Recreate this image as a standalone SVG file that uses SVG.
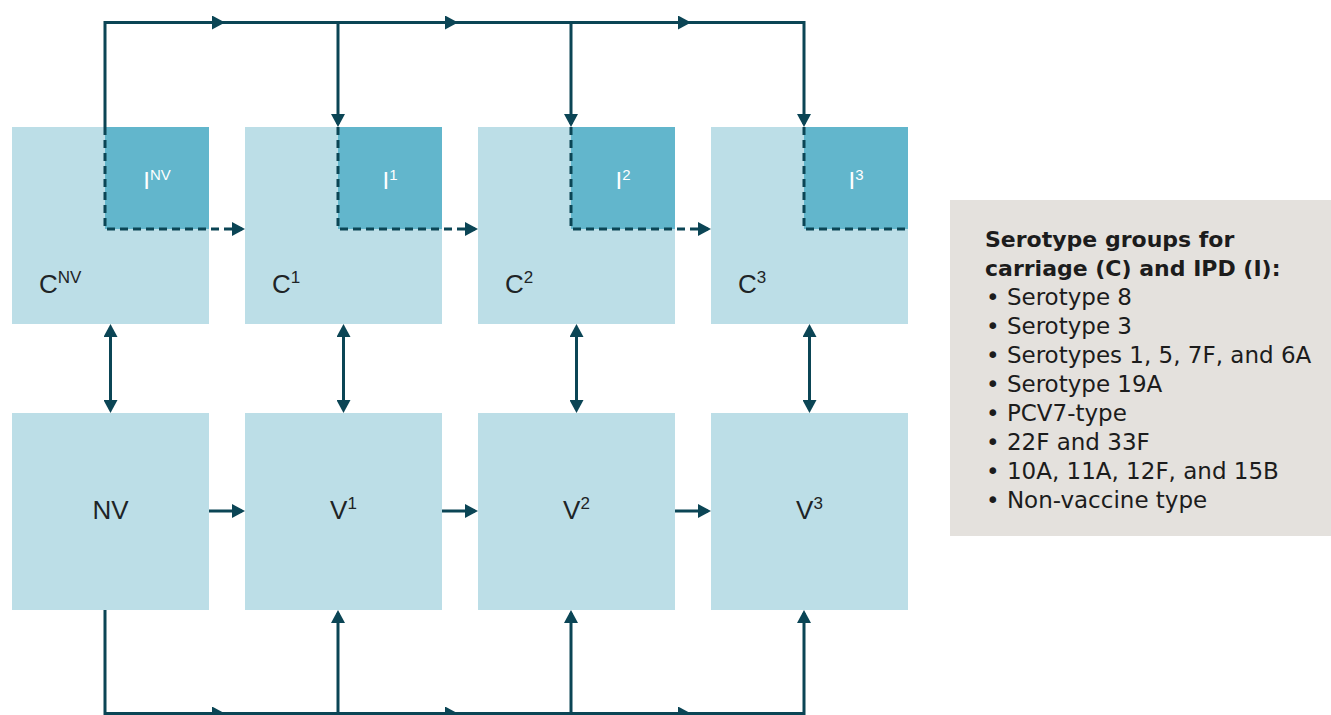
<svg xmlns="http://www.w3.org/2000/svg" width="1331" height="715" viewBox="0 0 1331 715">
  <defs>
    <style>
      .box { fill: #bcdee7; }
      .ibox { fill: #62b6cc; }
      .lbl { font-family: "Liberation Sans", Arial, sans-serif; font-size: 26px; fill: #1e2426; }
      .ilbl { font-family: "Liberation Sans", Arial, sans-serif; font-size: 24px; fill: #ffffff; }
      .sup { font-size: 17px; }
      .isup { font-size: 15px; }
      .flow { fill: none; stroke: #0b4555; stroke-width: 3; }
      .dash { fill: none; stroke: #0b4555; stroke-width: 3; stroke-dasharray: 8 5; }
      .legend-bg { fill: #e4e1dd; }
      .legend { font-family: "DejaVu Sans", Verdana, sans-serif; font-size: 23px; fill: #1c1c1c; }
      .legend-title { font-weight: bold; font-size: 22px; }
    </style>
    <marker id="head" viewBox="0 0 13 14" markerWidth="13" markerHeight="14" markerUnits="userSpaceOnUse" refX="10" refY="7" orient="auto-start-reverse">
      <path d="M0,0 L13,7 L0,14 z" fill="#0b4555"/>
    </marker>
  </defs>

  <!-- carriage compartments with IPD sub-compartments -->
  <g id="node-c-nv">
    <rect class="box" x="12" y="127" width="197" height="197"/>
    <text class="lbl" x="39" y="293">C<tspan class="sup" dy="-10">NV</tspan></text>
  </g>
  <g id="node-i-nv">
    <rect class="ibox" x="105" y="127" width="104" height="102"/>
    <text class="ilbl" x="157" y="189" text-anchor="middle">I<tspan class="isup" dy="-9">NV</tspan></text>
  </g>
  <g id="node-c1">
    <rect class="box" x="245" y="127" width="197" height="197"/>
    <text class="lbl" x="272" y="293">C<tspan class="sup" dy="-10">1</tspan></text>
  </g>
  <g id="node-i1">
    <rect class="ibox" x="338" y="127" width="104" height="102"/>
    <text class="ilbl" x="390" y="189" text-anchor="middle">I<tspan class="isup" dy="-9">1</tspan></text>
  </g>
  <g id="node-c2">
    <rect class="box" x="478" y="127" width="197" height="197"/>
    <text class="lbl" x="505" y="293">C<tspan class="sup" dy="-10">2</tspan></text>
  </g>
  <g id="node-i2">
    <rect class="ibox" x="571" y="127" width="104" height="102"/>
    <text class="ilbl" x="623" y="189" text-anchor="middle">I<tspan class="isup" dy="-9">2</tspan></text>
  </g>
  <g id="node-c3">
    <rect class="box" x="711" y="127" width="197" height="197"/>
    <text class="lbl" x="738" y="293">C<tspan class="sup" dy="-10">3</tspan></text>
  </g>
  <g id="node-i3">
    <rect class="ibox" x="804" y="127" width="104" height="102"/>
    <text class="ilbl" x="856" y="189" text-anchor="middle">I<tspan class="isup" dy="-9">3</tspan></text>
  </g>

  <!-- vaccination status compartments -->
  <g id="node-nv">
    <rect class="box" x="12" y="413" width="197" height="197"/>
    <text class="lbl" x="110.5" y="519" text-anchor="middle">NV</text>
  </g>
  <g id="node-v1">
    <rect class="box" x="245" y="413" width="197" height="197"/>
    <text class="lbl" x="343.5" y="519" text-anchor="middle">V<tspan class="sup" dy="-10">1</tspan></text>
  </g>
  <g id="node-v2">
    <rect class="box" x="478" y="413" width="197" height="197"/>
    <text class="lbl" x="576.5" y="519" text-anchor="middle">V<tspan class="sup" dy="-10">2</tspan></text>
  </g>
  <g id="node-v3">
    <rect class="box" x="711" y="413" width="197" height="197"/>
    <text class="lbl" x="809.5" y="519" text-anchor="middle">V<tspan class="sup" dy="-10">3</tspan></text>
  </g>

  <!-- legend -->
  <g id="legend">
    <rect class="legend-bg" x="950" y="200" width="381" height="336"/>
    <text class="legend legend-title" x="985" y="247">Serotype groups for</text>
    <text class="legend legend-title" x="985" y="276">carriage (C) and IPD (I):</text>
    <text class="legend" x="986" y="305">• Serotype 8</text>
    <text class="legend" x="986" y="334">• Serotype 3</text>
    <text class="legend" x="986" y="363">• Serotypes 1, 5, 7F, and 6A</text>
    <text class="legend" x="986" y="392">• Serotype 19A</text>
    <text class="legend" x="986" y="421">• PCV7-type</text>
    <text class="legend" x="986" y="450">• 22F and 33F</text>
    <text class="legend" x="986" y="479">• 10A, 11A, 12F, and 15B</text>
    <text class="legend" x="986" y="508">• Non-vaccine type</text>
  </g>

  <!-- connectors -->
  <g id="connectors">
    <!-- top distribution line feeding IPD compartments -->
    <path class="flow" d="M105,127 V22.5 H804 V124" marker-end="url(#head)"/>
    <path class="flow" d="M338,22.5 V124" marker-end="url(#head)"/>
    <path class="flow" d="M571,22.5 V124" marker-end="url(#head)"/>
    <path class="flow" d="M200,22.5 H222" marker-end="url(#head)"/>
    <path class="flow" d="M433,22.5 H455" marker-end="url(#head)"/>
    <path class="flow" d="M666,22.5 H688" marker-end="url(#head)"/>

    <!-- dashed IPD boundaries and progression -->
    <path class="dash" d="M105,127 V229 H242" marker-end="url(#head)"/>
    <path class="dash" d="M338,127 V229 H475" marker-end="url(#head)"/>
    <path class="dash" d="M571,127 V229 H708" marker-end="url(#head)"/>
    <path class="dash" d="M804,127 V229 H908"/>

    <!-- carriage <-> vaccination exchange -->
    <path class="flow" d="M110.5,327 V410" marker-start="url(#head)" marker-end="url(#head)"/>
    <path class="flow" d="M343.5,327 V410" marker-start="url(#head)" marker-end="url(#head)"/>
    <path class="flow" d="M576.5,327 V410" marker-start="url(#head)" marker-end="url(#head)"/>
    <path class="flow" d="M809.5,327 V410" marker-start="url(#head)" marker-end="url(#head)"/>

    <!-- vaccination progression -->
    <path class="flow" d="M209,511 H242" marker-end="url(#head)"/>
    <path class="flow" d="M442,511 H475" marker-end="url(#head)"/>
    <path class="flow" d="M675,511 H708" marker-end="url(#head)"/>

    <!-- bottom return line -->
    <path class="flow" d="M105,610 V713.5 H804 V613" marker-end="url(#head)"/>
    <path class="flow" d="M338,713.5 V613" marker-end="url(#head)"/>
    <path class="flow" d="M571,713.5 V613" marker-end="url(#head)"/>
    <path class="flow" d="M200,713.5 H222" marker-end="url(#head)"/>
    <path class="flow" d="M433,713.5 H455" marker-end="url(#head)"/>
    <path class="flow" d="M666,713.5 H688" marker-end="url(#head)"/>
  </g>
</svg>
